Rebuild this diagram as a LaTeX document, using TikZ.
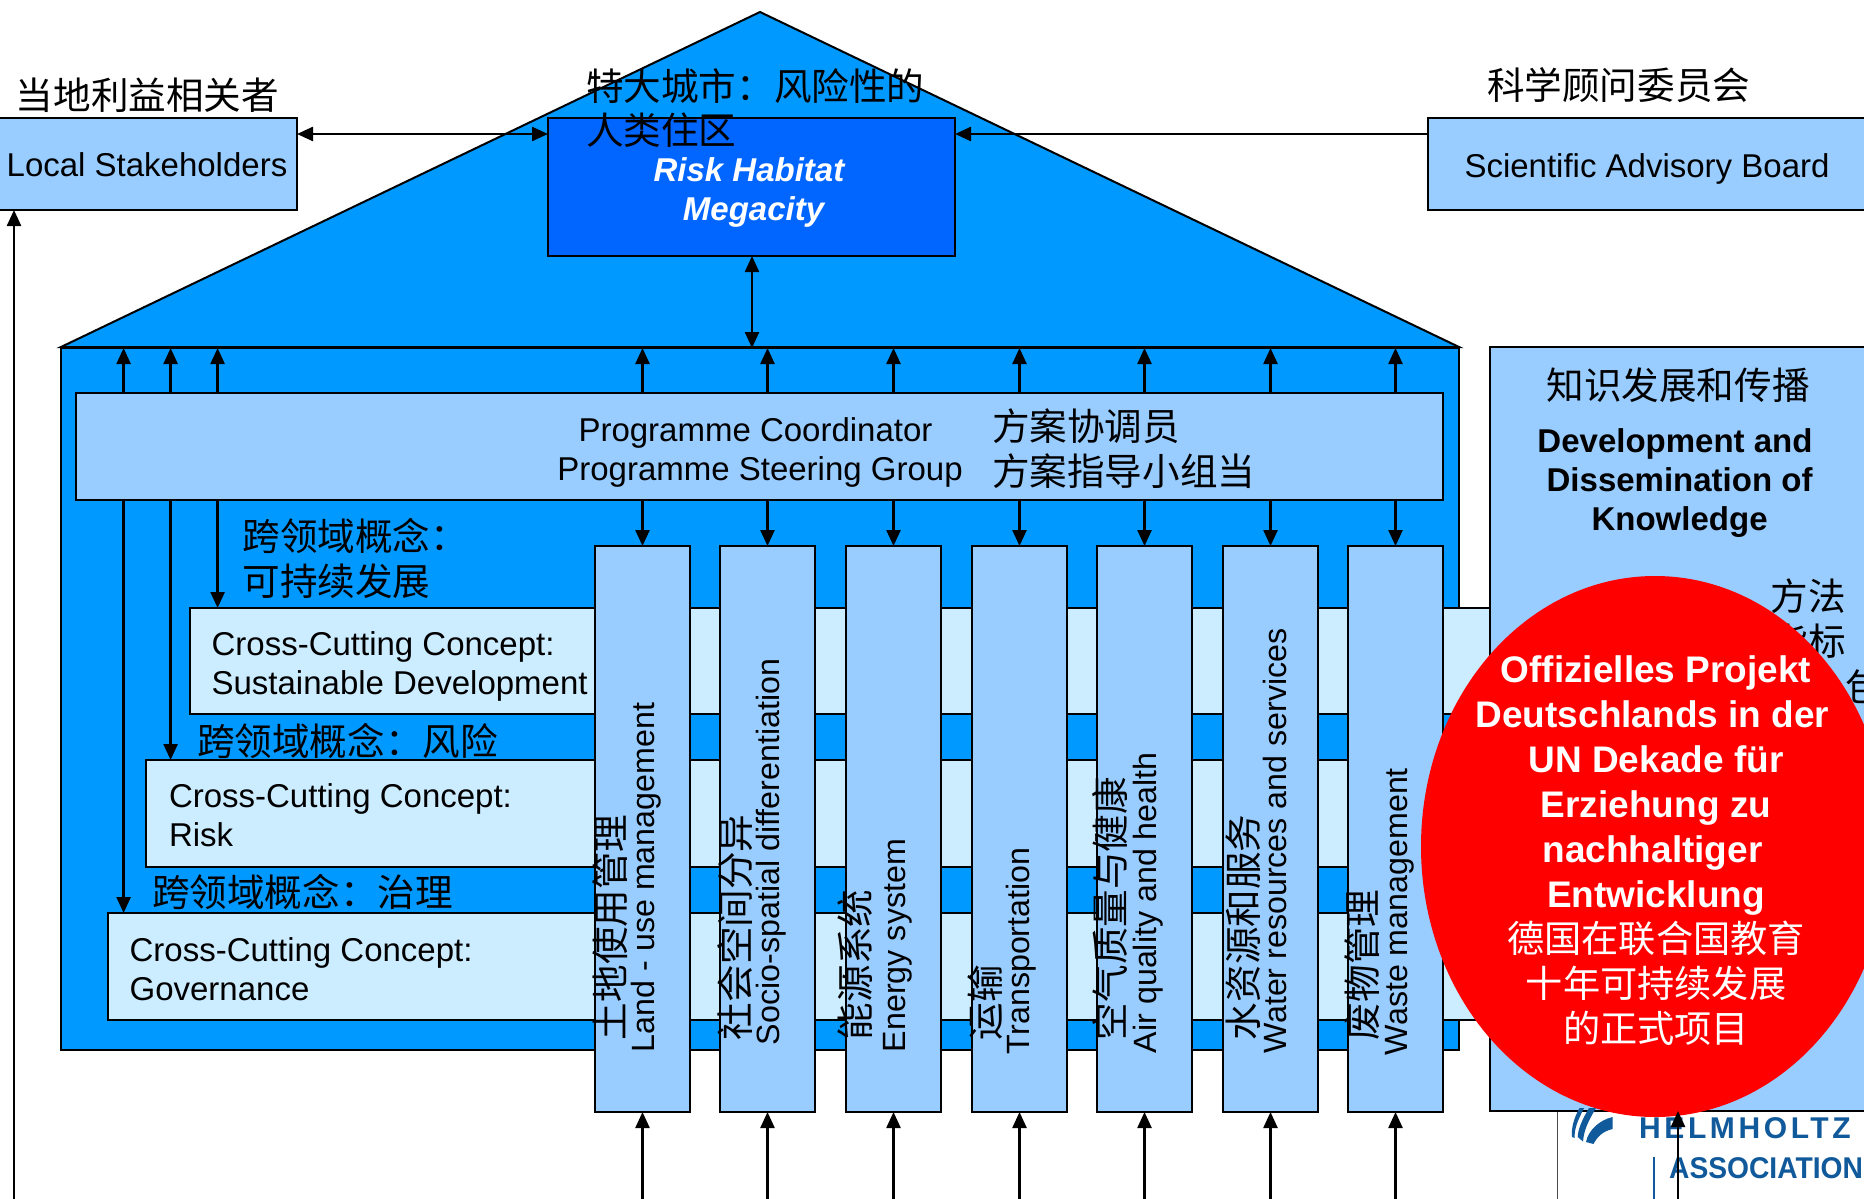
\documentclass[tikz,border=0pt]{standalone}
\usepackage{fontspec}
\setmainfont{Liberation Sans}
\newfontfamily\cjk{Noto Sans CJK SC}
\newfontfamily\logofont[LetterSpace=12]{Liberation Sans Bold}
\newfontfamily\logofontb[FakeStretch=0.94]{Liberation Sans Bold}
\usetikzlibrary{arrows.meta,shapes.geometric}
\definecolor{bodyblue}{HTML}{0099FF}
\definecolor{boxblue}{HTML}{99CCFF}
\definecolor{paleblue}{HTML}{CCECFF}
\definecolor{deepblue}{HTML}{0066FF}
\definecolor{logoblue}{HTML}{10599B}
\newcommand{\BX}[6]{\node[#6,anchor=north west,minimum width={#4-(#2)},minimum height={#5-(#3)}] (#1) at (#2,#3) {};}
\tikzset{
  x=1pt,y=-1pt,
  en/.style={font=\fontsize{33}{39}\selectfont,inner sep=0pt,outer sep=0pt},
  enrot/.style={font=\fontsize{32.2}{38}\selectfont,inner sep=0pt,outer sep=0pt},
  zh/.style={font=\cjk\fontsize{37.6}{45}\selectfont,inner sep=0pt,outer sep=0pt},
  boxbase/.style={draw=black,line width=2pt,inner sep=0pt,outer sep=0pt},
  bodybox/.style={boxbase,fill=bodyblue},
  lightbox/.style={boxbase,fill=boxblue},
  crossbox/.style={boxbase,fill=paleblue},
  deepbox/.style={boxbase,fill=deepblue},
  arr/.style={line width=2.4pt,-{Triangle[length=16pt,width=14pt]}},
  dbl/.style={line width=2.4pt,{Triangle[length=16pt,width=14pt]}-{Triangle[length=16pt,width=14pt]}},
}
\begin{document}
\begin{tikzpicture}
\useasboundingbox (0,0) rectangle (1864,1199);
\clip (0,0) rectangle (1864,1199);
\fill[white] (0,0) rectangle (1864,1199);
% roof and body
\coordinate (roofL) at (61,347);
\coordinate (roofT) at (760,12);
\coordinate (roofR) at (1459,347);
\draw[line width=2pt,fill=bodyblue,line join=miter] (roofL) -- (roofT) -- (roofR) -- cycle;
\BX{body}{61}{348}{1459}{1050}{bodybox}
% top boxes
\BX{ls}{-10}{118}{297}{210}{lightbox}
\BX{sab}{1428}{118}{1880}{210}{lightbox}
\BX{rh}{548}{118}{955}{256}{deepbox}
% programme
\BX{prog}{76}{393}{1443}{500}{lightbox}
% cross-cutting bars
\BX{cc1}{190}{608}{1500}{714}{crossbox}
\BX{cc2}{146}{760}{1500}{867}{crossbox}
\BX{cc3}{108}{913}{1500}{1020}{crossbox}
% columns
\foreach \n/\x in {1/595,2/720,3/846,4/972,5/1097,6/1223,7/1348}{
  \BX{col\n}{\x}{546}{\x+95}{1112}{lightbox}
  \coordinate (foot\n) at (\x+47.5,1199);
  \draw[arr] (col\n.north |- prog.north) -- (col\n.north |- body.north);
  \draw[arr] (col\n.north |- prog.south) -- (col\n.north);
  \draw[arr] (foot\n) -- (col\n.south);
}
% left-hand links of the programme box
\coordinate (link1) at (217.6,393);
\coordinate (link2) at (170.6,393);
\coordinate (link3) at (123.6,393);
\draw[arr] (link1) -- (link1 |- body.north);
\draw[arr] (link2) -- (link2 |- body.north);
\draw[arr] (link3) -- (link3 |- body.north);
\draw[arr] (link1 |- prog.south) -- (link1 |- cc1.north);
\draw[arr] (link2 |- prog.south) -- (link2 |- cc2.north);
\draw[arr] (link3 |- prog.south) -- (link3 |- cc3.north);
% top connections
\coordinate (lsTop) at (297,134);
\coordinate (rhL) at (548,134);
\coordinate (rhR) at (955,134);
\coordinate (sabL) at (1428,134);
\draw[dbl] (lsTop) -- (rhL);
\draw[arr] (sabL) -- (rhR);
\coordinate (rhDown) at (752,256);
\draw[dbl] (rhDown) -- (rhDown |- body.north);
\coordinate (lsFoot) at (14,1199);
\draw[arr] (lsFoot) -- (lsFoot |- ls.south);
% labels
\node[zh,anchor=west] (tLocalZh) at (16,95) {当地利益相关者};
\node[zh,anchor=west,align=left,font=\cjk\fontsize{37.6}{44}\selectfont] (tRiskZh) at (586,108) {特大城市：风险性的\\人类住区};
\node[zh,anchor=west] (tSabZh) at (1487,85) {科学顾问委员会};
\node[en] (tLocal) at (147,165) {Local Stakeholders};
\node[en] (tSab) at (1647,168.5) {Scientific Advisory Board};
\node[en,align=center,font=\fontsize{33}{39}\selectfont\bfseries\itshape,text=white] (tRisk) at (749,192) {Risk Habitat\\\ Megacity};
\node[en,align=center] (tProg) at (760,452) {Programme Coordinator\kern9pt\\Programme Steering Group};
\node[zh,anchor=west,align=left] (tProgZh) at (992,449) {方案协调员\\方案指导小组当};
\node[zh,anchor=west,align=left] (tC1Zh) at (242.5,558) {跨领域概念：\\可持续发展};
\node[en,anchor=west,align=left] (tC1) at (211.6,666) {Cross-Cutting Concept:\\Sustainable Development};
\node[zh,anchor=west] (tC2Zh) at (197,741) {跨领域概念：风险};
\node[en,anchor=west,align=left] (tC2) at (169,815.5) {Cross-Cutting Concept:\\Risk};
\node[zh,anchor=west] (tC3Zh) at (152,892) {跨领域概念：治理};
\node[en,anchor=west,align=left] (tC3) at (129.6,969) {Cross-Cutting Concept:\\Governance};
% column labels
\foreach \n/\ex/\eb/\et/\zx/\zt in {
  1/646/1052/{Land - use management}/610/土地使用管理,
  2/771/1045/{Socio-spatial differentiation}/735/社会空间分异,
  3/898/1052/{Energy system}/855/能源系统,
  4/1021/1054/{Transportation}/985/运输,
  5/1148/1053/{Air quality and health}/1110/空气质量与健康,
  6/1275/1053/{Water resources and services}/1243.6/水资源和服务,
  7/1400/1055/{Waste management}/1362/废物管理}{
  \node[enrot,rotate=90,anchor=west] (tE\n) at (\ex,\eb) {\et};
  \node[zh,rotate=90,anchor=west] (tZ\n) at (\zx,1040) {\zt};
}
% right panel
\BX{panel}{1490}{347}{1880}{1111}{lightbox}
\node[zh] (tPanelZh) at (1678,385) {知识发展和传播};
\node[en,align=center,font=\fontsize{33}{39}\selectfont\bfseries] (tPanel) at (1675,483.5) {Development and\\\ Dissemination of\\\ Knowledge};
\node[zh,anchor=east,align=right] (tPanelB) at (1846,618.5) {方法\\指标};
\node[zh,anchor=west] (tPanelC) at (1808,687) {、包};
% logo
\coordinate (logoLine) at (1557,1112);
\draw[line width=1pt,black!70] (logoLine) -- (logoLine |- 0,1199);
\fill[logoblue] (1572,1137) .. controls (1571,1128) and (1574,1118) .. (1579.5,1108) -- (1584,1108) .. controls (1578,1120) and (1574,1129) .. (1574.7,1138) -- cycle;
\fill[logoblue] (1577.7,1137) .. controls (1578,1129) and (1582,1120) .. (1589,1108) -- (1596,1108) .. controls (1589,1120) and (1584,1129) .. (1583,1141.5) -- cycle;
\fill[logoblue] (1586,1142) .. controls (1588,1131) and (1599,1120) .. (1612.7,1117) -- (1612.7,1129) .. controls (1603,1131) and (1597,1137) .. (1593.5,1144) -- cycle;
\node[inner sep=0pt,anchor=west,text=logoblue,font=\logofont\fontsize{30}{32}\selectfont] (tHelm) at (1639,1128.5) {HELMHOLTZ};
\node[inner sep=0pt,anchor=west,text=logoblue,font=\logofontb\fontsize{30}{32}\selectfont] (tAssoc) at (1669,1168) {ASSOCIATION};
\coordinate (logoBar) at (1654,1157);
\draw[line width=2pt,logoblue] (logoBar) -- (logoBar |- 0,1199);
% red ellipse
\node[ellipse,fill=red,minimum width=468,minimum height=541,inner sep=0pt] (seal) at (1655,846.5) {};
\node[en,align=center,text=white,font=\fontsize{37}{45}\selectfont] (tSeal) at (1656,851) {\textbf{Offizielles Projekt}\\\textbf{Deutschlands in der}\kern7pt\\\textbf{UN Dekade für}\\\textbf{Erziehung zu}\\\textbf{nachhaltiger}\kern7pt\\\textbf{Entwicklung}\\{\cjk\fontsize{37.2}{45}\selectfont 德国在联合国教育}\\{\cjk\fontsize{37.2}{45}\selectfont 十年可持续发展}\\{\cjk\fontsize{37.2}{45}\selectfont 的正式项目}};
\coordinate (panelFoot) at (1678,1199);
\draw[arr] (panelFoot) -- (panelFoot |- panel.south);
\end{tikzpicture}
\end{document}
